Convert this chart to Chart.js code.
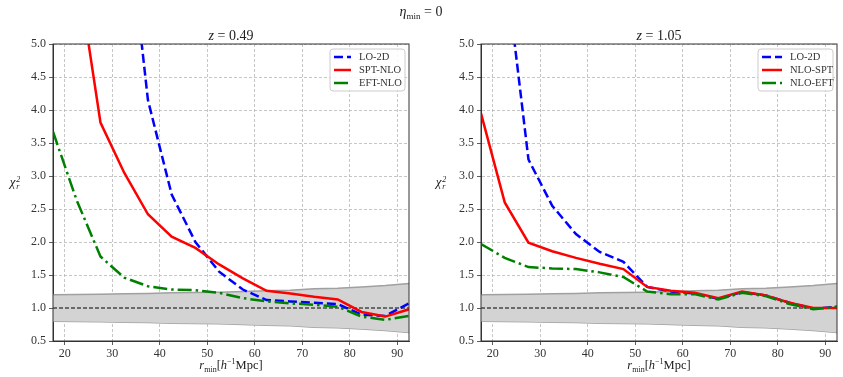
<!DOCTYPE html>
<html>
<head>
<meta charset="utf-8">
<script src="https://cdn.jsdelivr.net/npm/chart.js@4.4.0/dist/chart.umd.min.js"></script>
<style>
body { margin: 0; background: #fff; font-family: "Liberation Serif", "DejaVu Serif", serif; }
#wrap { position: relative; width: 843px; height: 377px; overflow: hidden; }
canvas { position: absolute; top: 0; }
.t { position: absolute; color: #222; white-space: nowrap; transform: translate(-50%, -50%); line-height: 1; }
.chi { font-style: italic; font-size: 13px; }
.st { display: inline-block; vertical-align: middle; font-size: 8px; line-height: 0.9; text-align: left; margin-left: 1px; }
</style>
</head>
<body>
<div id="wrap">
	<canvas id="left" width="420" height="377" style="left:0;width:420px;height:377px"></canvas>
	<canvas id="right" width="423" height="377" style="left:420px;width:423px;height:377px"></canvas>

	<div class="t" style="left:421px;top:13px;font-size:14px"><i>&eta;</i><sub style="font-size:9px">min</sub> = 0</div>
	<div class="t" style="left:231px;top:36px;font-size:14px"><i>z</i> = 0.49</div>
	<div class="t" style="left:659px;top:36px;font-size:14px"><i>z</i> = 1.05</div>
	<div class="t" style="left:231px;top:366px;font-size:12.5px"><i>r</i><sub style="font-size:8px">min</sub>[<i>h</i><sup style="font-size:8px">&minus;1</sup>Mpc]</div>
	<div class="t" style="left:659px;top:366px;font-size:12.5px"><i>r</i><sub style="font-size:8px">min</sub>[<i>h</i><sup style="font-size:8px">&minus;1</sup>Mpc]</div>
	<div class="t chi" style="left:15px;top:183px">&chi;<span class="st">2<br><i>r</i></span></div>
	<div class="t chi" style="left:441px;top:183px">&chi;<span class="st">2<br><i>r</i></span></div>
</div>

<script>
var rmin = [17.5, 22.5, 27.5, 32.5, 37.5, 42.5, 47.5, 52.5, 57.5, 62.5, 67.5, 72.5, 77.5, 82.5, 87.5, 92.5]
var xTicks = [20, 30, 40, 50, 60, 70, 80, 90]

// z = 0.49
var lo2dA = [15, 12, 9.5, 7.4, 4.15, 2.72, 2.0, 1.55, 1.28, 1.12, 1.10, 1.08, 1.06, 0.90, 0.88, 1.07]
var sptA  = [9.5, 6.19, 3.81, 3.05, 2.42, 2.08, 1.91, 1.66, 1.45, 1.26, 1.22, 1.17, 1.13, 0.94, 0.87, 0.98]
var eftA  = [3.67, 2.63, 1.78, 1.46, 1.33, 1.28, 1.27, 1.23, 1.15, 1.10, 1.07, 1.05, 1.02, 0.87, 0.82, 0.88]

// z = 1.05
var lo2dB = [9, 6.27, 3.25, 2.55, 2.12, 1.85, 1.70, 1.32, 1.25, 1.22, 1.14, 1.24, 1.19, 1.08, 0.99, 1.02]
var sptB  = [3.95, 2.60, 1.99, 1.86, 1.76, 1.67, 1.59, 1.32, 1.26, 1.23, 1.15, 1.25, 1.19, 1.08, 1.00, 1.00]
var eftB  = [1.97, 1.76, 1.62, 1.60, 1.59, 1.54, 1.47, 1.25, 1.21, 1.21, 1.13, 1.23, 1.18, 1.06, 0.98, 1.02]

// 1 sigma band around chi2 = 1
var bandHi = [1.20, 1.205, 1.21, 1.215, 1.22, 1.23, 1.235, 1.24, 1.25, 1.26, 1.27, 1.29, 1.30, 1.32, 1.34, 1.37]
var bandLo = [0.80, 0.795, 0.79, 0.785, 0.78, 0.77, 0.765, 0.76, 0.75, 0.74, 0.73, 0.71, 0.70, 0.68, 0.66, 0.63]
var unity  = [1, 1, 1, 1, 1, 1, 1, 1, 1, 1, 1, 1, 1, 1, 1, 1]

function pts(arr) {
	return rmin.map(function (x, i) { return { x: x, y: arr[i] } })
}

var tickFont = { family: '"Liberation Serif", "DejaVu Serif", serif', size: 12 }

var framePlugin = {
	id: 'frame',
	afterDraw: function (chart, args, opts) {
		var ctx = chart.ctx, a = chart.chartArea
		ctx.save()
		ctx.strokeStyle = '#333'
		ctx.lineWidth = 1
		ctx.setLineDash([])
		ctx.strokeRect(a.left, a.top, a.right - a.left, a.bottom - a.top)

		// legend box
		var w = opts.boxW, h = 42
		var bx = a.right - w - 4, by = a.top + 5
		ctx.fillStyle = 'rgba(255,255,255,0.85)'
		ctx.strokeStyle = '#cccccc'
		ctx.beginPath()
		ctx.roundRect(bx, by, w, h, 3)
		ctx.fill()
		ctx.stroke()
		ctx.font = '10.5px "Liberation Serif", "DejaVu Serif", serif'
		ctx.textBaseline = 'middle'
		chart.data.datasets.forEach(function (ds) {
			if (ds.legendRow === undefined) return
			var y = by + 8 + ds.legendRow * 13
			ctx.strokeStyle = ds.borderColor
			ctx.lineWidth = ds.borderWidth
			ctx.setLineDash(ds.borderDash || [])
			ctx.beginPath()
			ctx.moveTo(bx + 4, y)
			ctx.lineTo(bx + 4 + opts.lineW, y)
			ctx.stroke()
			ctx.fillStyle = '#333'
			ctx.fillText(ds.label, bx + 12 + opts.lineW, y)
		})
		ctx.restore()
	}
}

function makePanel(id, lo, spt, eft, names, pad, boxW, lineW) {
	return new Chart(document.getElementById(id), {
		type: 'line',
		data: {
			datasets: [
				{ label: names[0], data: pts(lo), borderColor: '#0000ff', borderWidth: 2.5, borderDash: [9, 4], pointRadius: 0, order: 3, legendRow: 0 },
				{ label: names[1], data: pts(spt), borderColor: '#ff0000', borderWidth: 2.5, pointRadius: 0, order: 2, legendRow: 1 },
				{ label: names[2], data: pts(eft), borderColor: '#008000', borderWidth: 2.5, borderDash: [14, 4, 2.5, 4], pointRadius: 0, order: 1, legendRow: 2 },
				{ label: 'one', data: pts(unity), borderColor: '#000', borderWidth: 1, borderDash: [4, 2], pointRadius: 0, order: 4 },
				{ label: 'lo', data: pts(bandLo), borderColor: '#a0a0a0', borderWidth: 1.5, pointRadius: 0, fill: false, order: 6 },
				{ label: 'hi', data: pts(bandHi), borderColor: '#a0a0a0', borderWidth: 1.5, pointRadius: 0, fill: '-1', backgroundColor: '#d3d3d3', order: 5 }
			]
		},
		options: {
			responsive: false,
			animation: false,
			layout: { padding: { left: pad.left, right: pad.right, top: 44, bottom: 0 } },
			plugins: {
				legend: { display: false },
				tooltip: { enabled: false },
				frame: { boxW: boxW, lineW: lineW }
			},
			scales: {
				x: {
					type: 'linear', min: 17.5, max: 92.5,
					afterBuildTicks: function (s) { s.ticks = xTicks.map(function (v) { return { value: v } }) },
					afterFit: function (s) { s.height = 36 },
					ticks: { font: tickFont, color: '#333', padding: 2, maxRotation: 0 },
					grid: { color: '#b8b8b8', lineWidth: 0.8, tickColor: '#333', tickLength: 4, tickBorderDash: [] },
					border: { dash: [3, 2], color: '#333' }
				},
				y: {
					min: 0.5, max: 5,
					afterFit: function (s) { s.width = pad.yw },
					ticks: { stepSize: 0.5, font: tickFont, color: '#333', padding: 3, callback: function (v) { return v.toFixed(1) } },
					grid: { color: '#b8b8b8', lineWidth: 0.8, tickColor: '#333', tickLength: 4, tickBorderDash: [] },
					border: { dash: [3, 2], color: '#333' }
				}
			}
		},
		plugins: [framePlugin]
	})
}

makePanel('left', lo2dA, sptA, eftA, ['LO-2D', 'SPT-NLO', 'EFT-NLO'], { left: 0, right: 11, yw: 53 }, 75, 17)
makePanel('right', lo2dB, sptB, eftB, ['LO-2D', 'NLO-SPT', 'NLO-EFT'], { left: 8, right: 6, yw: 53 }, 75, 20)
</script>
</body>
</html>
